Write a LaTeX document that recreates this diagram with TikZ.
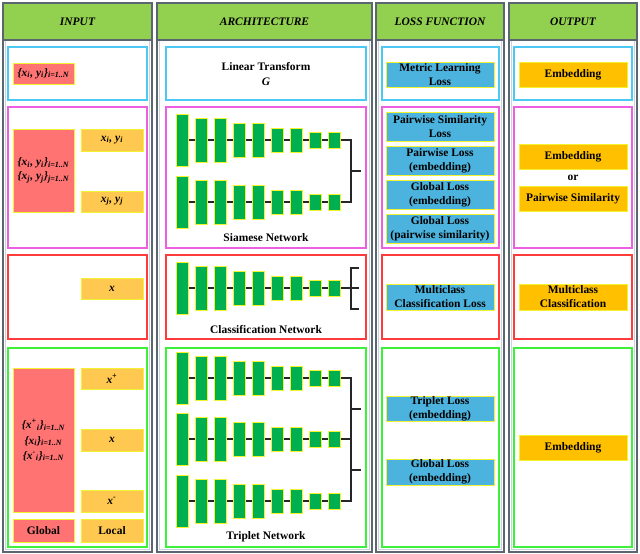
\documentclass[tikz,border=0pt]{standalone}
\usepackage{fontspec}
\setmainfont{Liberation Serif}
\usetikzlibrary{fit}
\definecolor{hdrgreen}{HTML}{92D050}
\definecolor{colborder}{HTML}{5B6770}
\definecolor{colinner}{HTML}{C9D3DA}
\definecolor{bargreen}{HTML}{00B050}
\definecolor{baredge}{HTML}{F2F230}
\definecolor{inred}{HTML}{FF7373}
\definecolor{inorange}{HTML}{FFC850}
\definecolor{lossblue}{HTML}{4BB3DE}
\definecolor{outgold}{HTML}{FFC000}
\definecolor{frcyan}{HTML}{4CC8F4}
\definecolor{frmag}{HTML}{EC5FE0}
\definecolor{frred}{HTML}{FF3B3B}
\definecolor{frgreen}{HTML}{3CF03C}
\tikzset{
  colbox/.style={draw=colborder, line width=1.2pt, fill=white, inner sep=0pt},
  hdr/.style={draw=colborder, line width=1pt, fill=hdrgreen, inner sep=0pt},
  hdrtext/.style={inner sep=0pt, font=\fontsize{8.6}{10}\selectfont\bfseries\itshape},
  frame/.style={draw=#1, line width=1pt, inner sep=0pt},
  cbox/.style={draw=baredge, line width=0.6pt, fill=#1, inner sep=0pt, align=center},
  bar/.style={draw=baredge, line width=0.7pt, fill=bargreen, inner sep=0pt, minimum width=9.5pt},
  netline/.style={draw=black!85, line width=0.9pt},
  lbl/.style={inner sep=0pt, align=center}
}
\newcommand\netrow[2]{%
  \foreach \h [count=\k from 0] in {52,44,44,34,34,24,24,16,16} {
    \node[bar, minimum height=\h*0.75pt] (#1-\k) at ({182.5+19*\k},#2) {};
  }}
\begin{document}
\begin{tikzpicture}[x=0.75pt,y=-0.75pt, font=\fontsize{8.6}{10.6}\selectfont\bfseries]
\useasboundingbox (0,0) rectangle (640,554);
\fill[white] (0,0) rectangle (640,554);
% columns
\foreach \a/\b/\n in {3/152/c1, 157/372/c2, 376/504/c3, 509/637/c4} {
  \node[colbox, fit={(\a,3)(\b,552)}] (\n) {};
  \draw[colinner, line width=0.8pt] (\a+2.5,41) -- (\a+2.5,549.5) -- (\b-2.5,549.5) -- (\b-2.5,41);
}
\node[hdr, fit={(3,3)(152,40)}] (h1) {};
\node[hdr, fit={(157,3)(372,40)}] (h2) {};
\node[hdr, fit={(376,3)(504,40)}] (h3) {};
\node[hdr, fit={(509,3)(637,40)}] (h4) {};
\node[hdrtext] at (h1) {INPUT};
\node[hdrtext] at (h2) {ARCHITECTURE};
\node[hdrtext] at (h3) {LOSS FUNCTION};
\node[hdrtext] at (h4) {OUTPUT};
% row frames
\foreach \a/\b/\n in {8/147/1, 166/366/2, 382/499/3, 514/632/4} {
  \node[frame=frcyan, fit={(\a,47)(\b,100)}] (f1-\n) {};
  \node[frame=frmag, fit={(\a,107)(\b,248)}] (f2-\n) {};
  \node[frame=frred, fit={(\a,255)(\b,339)}] (f3-\n) {};
  \node[frame=frgreen, fit={(\a,348)(\b,547)}] (f4-\n) {};
}
% input column
\node[cbox=inred, fit={(13,63)(74,84)}] (in1) {};
\node[lbl] at (in1) {\itshape\{x\textsubscript{i}, y\textsubscript{i}\}\textsubscript{i=1..N}};
\node[cbox=inred, fit={(13,129)(74,212)}] (in2) {};
\node[lbl] at (in2) {\itshape\{x\textsubscript{i}, y\textsubscript{i}\}\textsubscript{i=1..N}\\\itshape\{x\textsubscript{j}, y\textsubscript{j}\}\textsubscript{j=1..N}};
\node[cbox=inorange, fit={(81,129)(143,151)}] (in2a) {};
\node[lbl] at (in2a) {\itshape x\textsubscript{i}, y\textsubscript{i}};
\node[cbox=inorange, fit={(81,191)(143,212)}] (in2b) {};
\node[lbl] at (in2b) {\itshape x\textsubscript{j}, y\textsubscript{j}};
\node[cbox=inorange, fit={(81,278)(143,299)}] (in3) {};
\node[lbl] at (in3) {\itshape x};
\node[cbox=inred, fit={(13,368)(74,512)}] (in4) {};
\node[lbl, font=\fontsize{8.6}{10.6}\selectfont\bfseries\itshape] at (in4) {\{x\textsuperscript{+}\textsubscript{i}\}\textsubscript{i=1..N}\\[1pt]\{x\textsubscript{i}\}\textsubscript{i=1..N}\\[1pt]\{x\textsuperscript{-}\textsubscript{i}\}\textsubscript{i=1..N}};
\node[cbox=inorange, fit={(81,368)(143,389)}] (in4a) {};
\node[lbl] at (in4a) {\itshape x\textsuperscript{+}};
\node[cbox=inorange, fit={(81,429)(143,451)}] (in4b) {};
\node[lbl] at (in4b) {\itshape x};
\node[cbox=inorange, fit={(81,490)(143,512)}] (in4c) {};
\node[lbl] at (in4c) {\itshape x\textsuperscript{-}};
\node[cbox=inred, fit={(13,519)(74,542)}] (glob) {};
\node[lbl] at (glob) {Global};
\node[cbox=inorange, fit={(81,519)(143,542)}] (loc) {};
\node[lbl] at (loc) {Local};
% architecture
\node[lbl] (lt) at (266,74) {Linear Transform\\\itshape G};
% siamese lines
\coordinate (sa) at (182.5,140);
\coordinate (sb) at (182.5,202);
\coordinate (sja) at (351,140);
\coordinate (sjb) at (351,202);
\coordinate (sjm) at (351,171);
\coordinate (sout) at (361,171);
\draw[netline] (sa) -- (sja) -- (sjb) -- (sb);
\draw[netline] (sjm) -- (sout);
\netrow{sa}{140}
\netrow{sb}{202}
\node[lbl] (sn) at (266,238) {Siamese Network};
% classification
\coordinate (ca) at (182.5,288);
\coordinate (cj) at (351,288);
\coordinate (cjt) at (351,268);
\coordinate (cjb) at (351,309);
\coordinate (cot) at (359,268);
\coordinate (com) at (359,288);
\coordinate (cob) at (359,309);
\draw[netline] (ca) -- (com);
\draw[netline] (cot) -- (cjt) -- (cjb) -- (cob);
\netrow{ca}{288}
\node[lbl] (cn) at (266,330) {Classification Network};
% triplet
\coordinate (ta) at (182.5,378);
\coordinate (tb) at (182.5,439);
\coordinate (tc) at (182.5,501);
\coordinate (tja) at (351,378);
\coordinate (tjb) at (351,439);
\coordinate (tjc) at (351,501);
\coordinate (tm1) at (351,409);
\coordinate (tm2) at (351,470);
\coordinate (to1) at (361,409);
\coordinate (to2) at (361,470);
\draw[netline] (ta) -- (tja) -- (tjc) -- (tc);
\draw[netline] (tb) -- (tjb);
\draw[netline] (tm1) -- (to1);
\draw[netline] (tm2) -- (to2);
\netrow{ta}{378}
\netrow{tb}{439}
\netrow{tc}{501}
\node[lbl] (tn) at (266,537) {Triplet Network};
% loss
\node[cbox=lossblue, fit={(386,62)(494,87)}] (l1) {};
\node[lbl] at (l1) {Metric Learning\\Loss};
\node[cbox=lossblue, fit={(386,112)(494,141)}] (l2) {};
\node[lbl] at (l2) {Pairwise Similarity\\Loss};
\node[cbox=lossblue, fit={(386,146)(494,175)}] (l3) {};
\node[lbl] at (l3) {Pairwise Loss\\(embedding)};
\node[cbox=lossblue, fit={(386,180)(494,209)}] (l4) {};
\node[lbl] at (l4) {Global Loss\\(embedding)};
\node[cbox=lossblue, fit={(386,214)(494,243)}] (l5) {};
\node[lbl] at (l5) {Global Loss\\(pairwise similarity)};
\node[cbox=lossblue, fit={(386,284)(494,310)}] (l6) {};
\node[lbl] at (l6) {Multiclass\\Classification Loss};
\node[cbox=lossblue, fit={(386,396)(494,421)}] (l7) {};
\node[lbl] at (l7) {Triplet Loss\\(embedding)};
\node[cbox=lossblue, fit={(386,459)(494,485)}] (l8) {};
\node[lbl] at (l8) {Global Loss\\(embedding)};
% output
\node[cbox=outgold, fit={(519,62)(627,87)}] (o1) {};
\node[lbl] at (o1) {Embedding};
\node[cbox=outgold, fit={(519,144)(627,169)}] (o2) {};
\node[lbl] at (o2) {Embedding};
\node[lbl] (or) at (573,178) {or};
\node[cbox=outgold, fit={(519,186)(627,211)}] (o3) {};
\node[lbl] at (o3) {Pairwise Similarity};
\node[cbox=outgold, fit={(519,284)(627,310)}] (o4) {};
\node[lbl] at (o4) {Multiclass\\Classification};
\node[cbox=outgold, fit={(519,435)(627,460)}] (o5) {};
\node[lbl] at (o5) {Embedding};
\end{tikzpicture}
\end{document}
